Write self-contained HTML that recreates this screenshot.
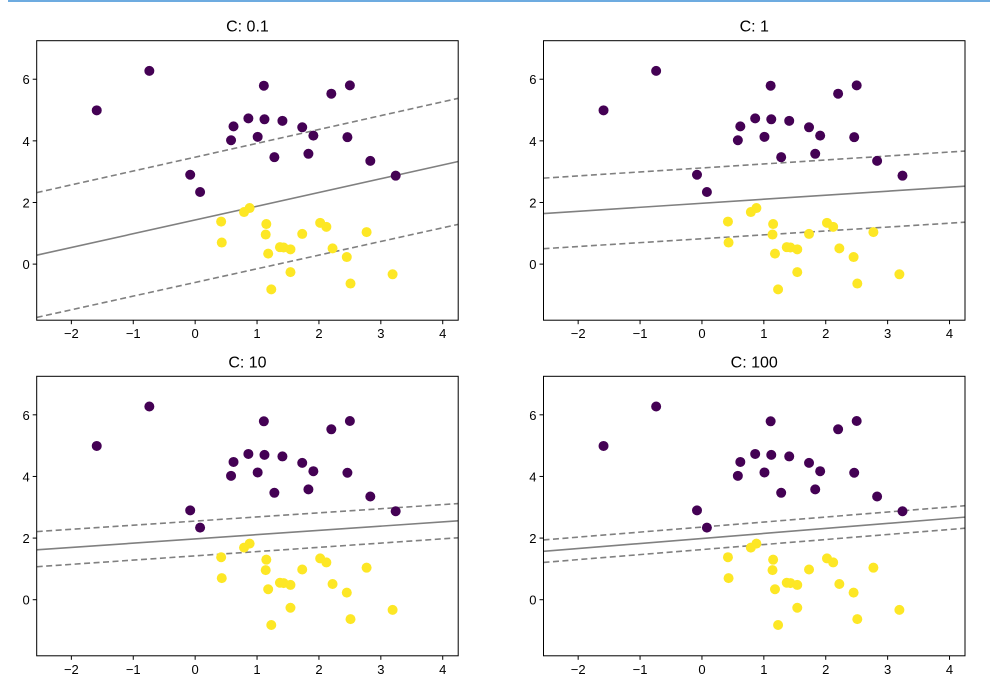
<!DOCTYPE html>
<html><head><meta charset="utf-8"><style>
html,body{margin:0;padding:0;background:#fff;}
svg{display:block;font-family:"Liberation Sans","DejaVu Sans",sans-serif;}
</style></head><body>
<svg id="fig" width="997" height="692" viewBox="0 0 997 692" xmlns="http://www.w3.org/2000/svg">
<rect x="0" y="0" width="997" height="692" fill="#fff"/>
<line x1="8" y1="1" x2="990" y2="1" stroke="#3d8fd6" stroke-width="1.5"/>
</svg>
<script>
const purpleX=[-1.59,-0.74,1.11,2.20,2.50,0.62,0.58,0.86,1.12,1.01,1.41,1.73,1.91,2.46,1.28,1.83,2.83,-0.08,0.08,3.24];
const purpleY=[4.99,6.27,5.79,5.53,5.80,4.47,4.02,4.73,4.70,4.13,4.65,4.44,4.17,4.12,3.47,3.58,3.35,2.90,2.34,2.87];
const yellowX=[0.88,0.79,0.42,0.43,1.15,1.14,1.18,1.37,1.43,1.54,1.54,1.23,1.73,2.02,2.12,2.22,2.45,2.51,2.77,3.19];
const yellowY=[1.82,1.69,1.38,0.70,1.30,0.96,0.34,0.55,0.54,0.48,-0.26,-0.82,0.98,1.34,1.21,0.51,0.23,-0.63,1.04,-0.33];
const cTitles=["C: 0.1","C: 1","C: 10","C: 100"];
const solidLeft=[0.29,1.64,1.62,1.57];
const solidRight=[3.33,2.53,2.56,2.68];
const upperLeft=[2.32,2.79,2.21,1.94];
const upperRight=[5.38,3.67,3.12,3.05];
const lowerLeft=[-1.73,0.50,1.07,1.21];
const lowerRight=[1.29,1.36,2.01,2.32];
const xTicks=[-2,-1,0,1,2,3,4];
const yTicks=[0,2,4,6];
const xMin=-2.56,xMax=4.25,yMin=-1.82,yMax=7.25;

const NS="http://www.w3.org/2000/svg";
const svg=document.getElementById('fig');
function mk(tag,attrs,parent){const e=document.createElementNS(NS,tag);for(const k in attrs)e.setAttribute(k,attrs[k]);(parent||svg).appendChild(e);return e;}
const panels=[[36.7,40.7],[543.5,40.7],[36.7,376.3],[543.5,376.3]];
const W=421.5,H=279.5;
const fmt=v=>v<0?"\u2212"+Math.abs(v):String(v);
panels.forEach((p,i)=>{
  const [L,T]=p;
  const sx=x=>L+(x-xMin)/(xMax-xMin)*W;
  const sy=y=>T+H-(y-yMin)/(yMax-yMin)*H;
  const g=mk('g',{});
  
  
  const cp=mk('clipPath',{id:'cp'+i},g);
  mk('rect',{x:L,y:T,width:W,height:H},cp);
  const t=mk('text',{x:L+W/2,y:T-9,'text-anchor':'middle','font-size':'16',fill:'#000'},g);
  t.textContent=cTitles[i];
  
  
  const plot=mk('g',{'clip-path':'url(#cp'+i+')'},g);
  const lines=[[solidLeft,solidRight,null,'decision-boundary'],[upperLeft,upperRight,'6,3.5','upper-margin'],[lowerLeft,lowerRight,'6,3.5','lower-margin']];
  lines.forEach(([a,b,d,n])=>{
    const ln=mk('line',{x1:sx(xMin),y1:sy(a[i]),x2:sx(xMax),y2:sy(b[i]),stroke:'#808080','stroke-width':1.6},plot);
    if(d)ln.setAttribute('stroke-dasharray',d);
    
    
  });
  purpleX.forEach((x,k)=>{const c=mk('circle',{cx:sx(x),cy:sy(purpleY[k]),r:5,fill:'#440154'},plot);
    
    });
  yellowX.forEach((x,k)=>{const c=mk('circle',{cx:sx(x),cy:sy(yellowY[k]),r:5,fill:'#fde725'},plot);
    
    });
  const fr=mk('rect',{x:L,y:T,width:W,height:H,fill:'none',stroke:'#000','stroke-width':1},g);
  
  
  xTicks.forEach(v=>{const X=sx(v);mk('line',{x1:X,y1:T+H,x2:X,y2:T+H+4,stroke:'#000'},g);
    const tx=mk('text',{x:X,y:T+H+18,'text-anchor':'middle','font-size':'13',fill:'#000'},g);tx.textContent=fmt(v);
    
    });
  yTicks.forEach(v=>{const Y=sy(v);mk('line',{x1:L,y1:Y,x2:L-4,y2:Y,stroke:'#000'},g);
    const ty=mk('text',{x:L-7,y:Y+5,'text-anchor':'end','font-size':'13',fill:'#000'},g);ty.textContent=fmt(v);
    
    });
});
</script>
</body></html>
